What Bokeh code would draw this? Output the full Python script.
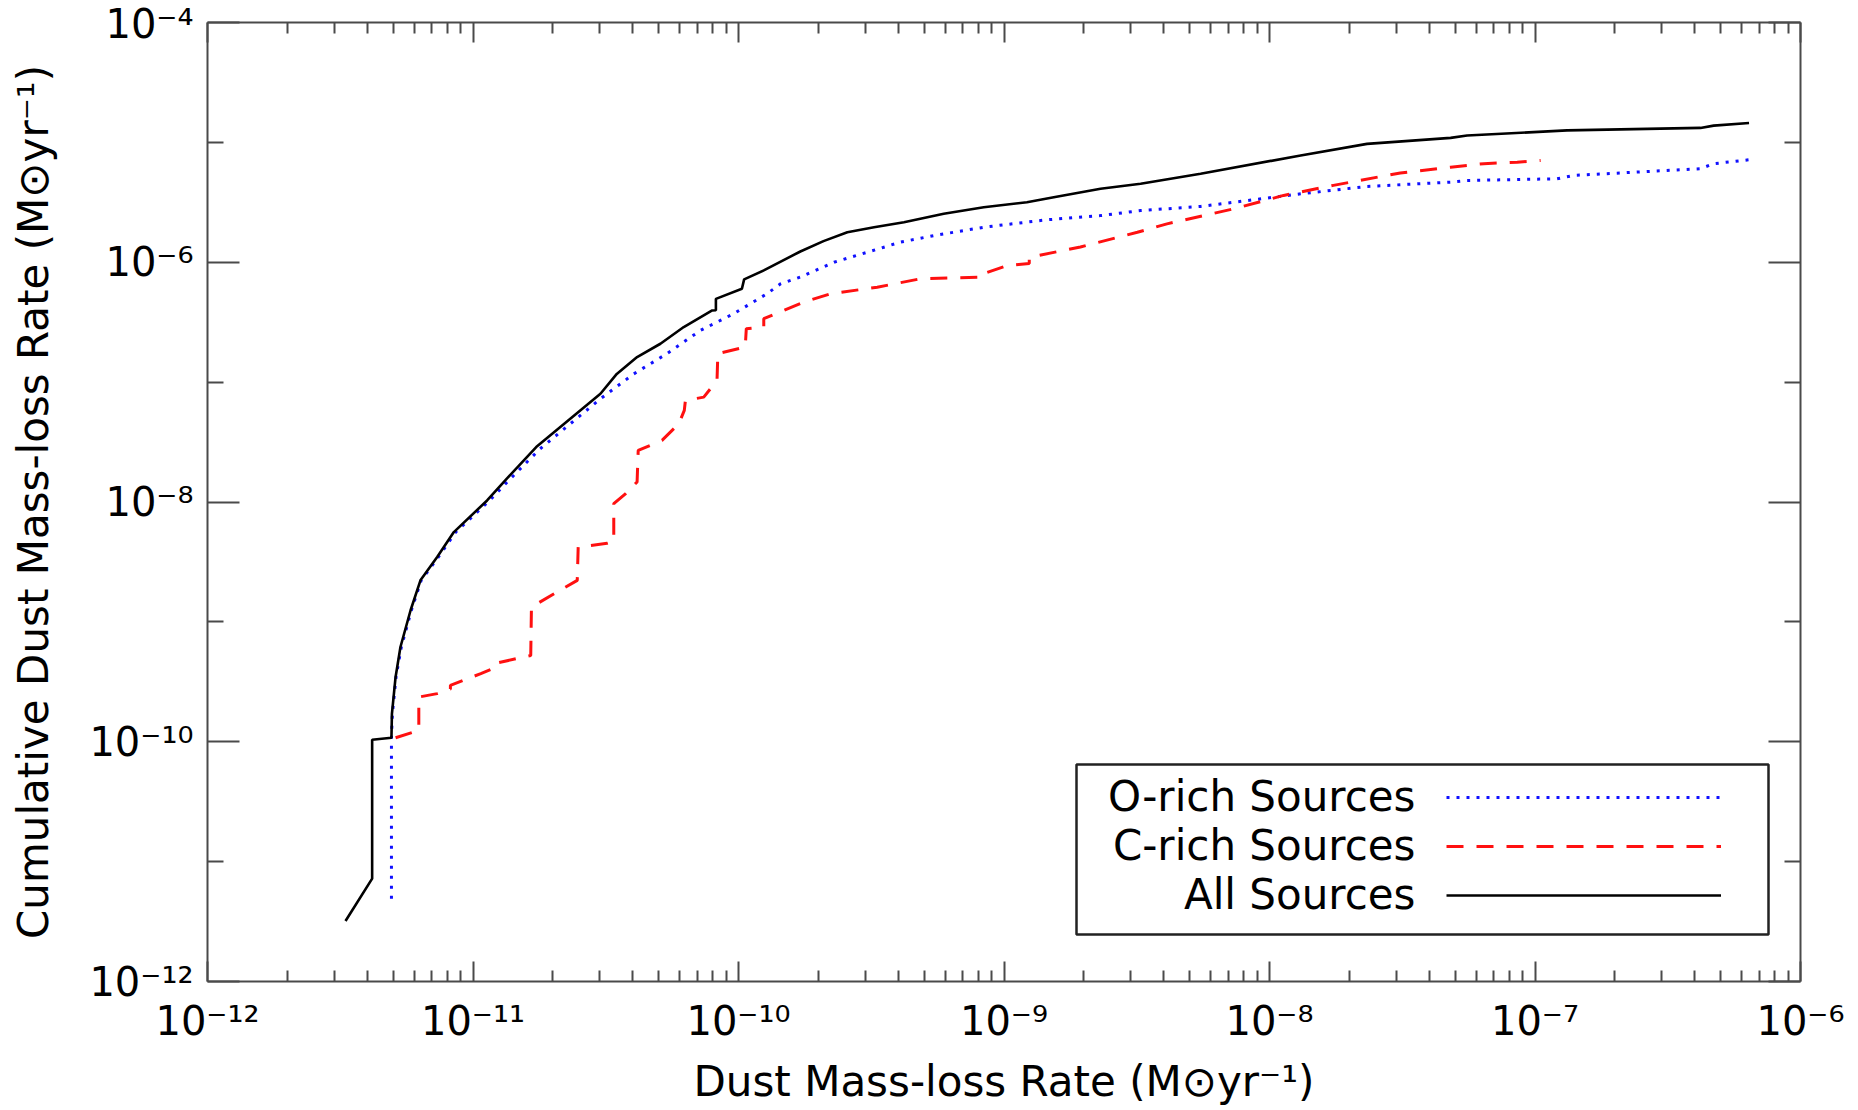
from bokeh.plotting import figure
from bokeh.models import (LogAxis, FixedTicker, CustomJSTickFormatter, Legend, LegendItem,
                          Label, BoxAnnotation, ColumnDataSource)
from bokeh.embed import file_html
from bokeh.resources import INLINE

# ---------------- data ----------------
all_rate = [3.31e-12, 4.17e-12, 4.17e-12, 4.93e-12, 4.95e-12, 5.11e-12, 5.33e-12, 5.82e-12,
            6.34e-12, 7.33e-12, 8.47e-12, 1.13e-11, 1.32e-11, 1.73e-11, 3.02e-11, 3.48e-11,
            4.15e-11, 5.08e-11, 6.22e-11, 7.96e-11, 8.22e-11, 8.22e-11, 1.03e-10, 1.05e-10,
            1.245e-10, 1.71e-10, 2.09e-10, 2.57e-10, 3.24e-10, 4.20e-10, 5.93e-10, 8.39e-10,
            1.22e-9, 1.54e-9, 2.31e-9, 3.27e-9, 5.50e-9, 1.31e-8, 2.33e-8, 4.81e-8, 5.55e-8,
            1.32e-7, 4.20e-7, 4.71e-7, 6.40e-7]
all_cum = [3.20e-12, 7.21e-12, 1.04e-10, 1.08e-10, 1.71e-10, 3.47e-10, 6.17e-10, 1.25e-9,
           2.22e-9, 3.48e-9, 5.61e-9, 1.03e-8, 1.51e-8, 2.87e-8, 8.00e-8, 1.17e-7,
           1.62e-7, 2.09e-7, 2.88e-7, 3.96e-7, 3.98e-7, 4.95e-7, 6.01e-7, 7.20e-7,
           8.55e-7, 1.23e-6, 1.50e-6, 1.78e-6, 1.96e-6, 2.16e-6, 2.54e-6, 2.88e-6,
           3.17e-6, 3.49e-6, 4.10e-6, 4.52e-6, 5.47e-6, 7.78e-6, 9.72e-6, 1.09e-5, 1.14e-5,
           1.26e-5, 1.32e-5, 1.38e-5, 1.45e-5]

orich_rate = [4.93e-12, 4.93e-12, 4.97e-12, 5.13e-12, 5.37e-12, 5.86e-12, 6.38e-12, 7.41e-12,
              8.61e-12, 1.15e-11, 1.35e-11, 1.78e-11, 3.02e-11, 4.03e-11, 5.38e-11, 7.19e-11,
              9.59e-11, 1.28e-10, 1.44e-10, 1.71e-10, 2.29e-10, 3.05e-10, 4.07e-10, 5.45e-10,
              8.39e-10, 1.45e-9, 2.31e-9, 3.27e-9, 5.50e-9, 1.31e-8, 2.33e-8, 4.81e-8, 5.55e-8,
              1.21e-7, 1.40e-7, 4.20e-7, 4.71e-7, 6.40e-7]
orich_cum = [4.90e-12, 1.08e-10, 1.71e-10, 3.47e-10, 6.17e-10, 1.25e-9, 2.22e-9, 3.48e-9,
             5.61e-9, 1.02e-8, 1.48e-8, 2.75e-8, 7.26e-8, 1.17e-7, 1.73e-7, 2.70e-7,
             3.72e-7, 5.46e-7, 6.61e-7, 7.52e-7, 1.00e-6, 1.21e-6, 1.47e-6, 1.67e-6,
             1.96e-6, 2.26e-6, 2.45e-6, 2.70e-6, 2.92e-6, 3.72e-6, 4.29e-6, 4.66e-6, 4.81e-6,
             4.97e-6, 5.30e-6, 6.03e-6, 6.64e-6, 7.16e-6]

crich_rate = [5.11e-12, 6.25e-12, 6.25e-12, 7.33e-12, 8.22e-12, 8.22e-12, 1.07e-11, 1.25e-11,
              1.25e-11, 1.65e-11, 1.66e-11, 2.07e-11, 2.47e-11, 2.49e-11, 3.20e-11, 3.39e-11,
              3.39e-11, 3.75e-11, 4.15e-11, 4.19e-11, 5.15e-11, 5.96e-11, 6.25e-11, 6.31e-11,
              7.40e-11, 8.30e-11, 8.36e-11, 1.06e-10, 1.07e-10, 1.245e-10, 1.245e-10, 1.76e-10,
              2.22e-10, 3.33e-10, 4.84e-10, 8.32e-10, 8.39e-10, 1.03e-9, 1.245e-9, 1.245e-9,
              1.94e-9, 3.18e-9, 4.11e-9, 7.33e-9, 1.13e-8, 1.74e-8, 3.11e-8, 4.81e-8, 6.41e-8,
              8.57e-8, 1.05e-7]
crich_cum = [1.08e-10, 1.245e-10, 2.36e-10, 2.52e-10, 2.75e-10, 2.95e-10, 3.70e-10, 4.27e-10,
             4.57e-10, 5.25e-10, 1.33e-9, 1.77e-9, 2.22e-9, 4.21e-9, 4.52e-9, 4.68e-9,
             9.68e-9, 1.17e-8, 1.47e-8, 2.69e-8, 3.27e-8, 4.50e-8, 5.81e-8, 7.03e-8,
             7.50e-8, 1.03e-7, 1.73e-7, 1.96e-7, 2.79e-7, 2.88e-7, 3.38e-7, 4.65e-7,
             5.46e-7, 6.19e-7, 7.28e-7, 7.50e-7, 8.04e-7, 9.40e-7, 9.77e-7, 1.10e-6,
             1.34e-6, 1.78e-6, 2.09e-6, 2.79e-6, 3.61e-6, 4.38e-6, 5.56e-6, 6.21e-6, 6.64e-6,
             6.84e-6, 7.06e-6]

series_names = ["O-rich Sources", "C-rich Sources", "All Sources"]

x_major_ticks = [1e-12, 1e-11, 1e-10, 1e-9, 1e-8, 1e-7, 1e-6]
x_minor_ticks = [m * 10.0 ** k for k in range(-12, -6) for m in range(2, 10)]
y_major_ticks = [1e-12, 1e-10, 1e-8, 1e-6, 1e-4]
y_minor_ticks = [1e-11, 1e-9, 1e-7, 1e-5]

x_label = "Dust Mass-loss Rate (M\u2299yr\u207b\u00b9)"
y_label = "Cumulative Dust Mass-loss Rate (M\u2299yr\u207b\u00b9)"

# ---------------- styling ----------------
FONT = "DejaVu Sans"
AXC = "#4a4a4a"

p = figure(width=1858, height=1110, x_axis_type="log", y_axis_type="log",
           x_range=(1e-12, 1e-6), y_range=(1e-12, 1e-4),
           output_backend="svg", toolbar_location=None,
           min_border_left=207, min_border_right=58, min_border_top=22, min_border_bottom=129)
p.xgrid.visible = False
p.ygrid.visible = False
p.outline_line_color = None
p.background_fill_color = "white"
p.border_fill_color = "white"

sup_code = """
const e = Math.round(Math.log10(tick));
const m = {"-":"\u207b","0":"\u2070","1":"\u00b9","2":"\u00b2","3":"\u00b3","4":"\u2074",
           "5":"\u2075","6":"\u2076","7":"\u2077","8":"\u2078","9":"\u2079"};
return "10" + String(e).split("").map(c => m[c]).join("");
"""


def style_axis(ax, major, minor, tin, tmin, labelled):
    ax.ticker = FixedTicker(ticks=major, minor_ticks=minor)
    ax.axis_line_color = AXC
    ax.axis_line_width = 2
    ax.major_tick_line_color = AXC
    ax.major_tick_line_width = 2
    ax.minor_tick_line_color = AXC
    ax.minor_tick_line_width = 2
    ax.major_tick_in = tin
    ax.major_tick_out = 0
    ax.minor_tick_in = tmin
    ax.minor_tick_out = 0
    if labelled:
        ax.formatter = CustomJSTickFormatter(code=sup_code)
        ax.major_label_text_font = FONT
        ax.major_label_text_font_size = "40px"
        ax.major_label_text_color = "black"
        ax.axis_label_text_font = FONT
        ax.axis_label_text_font_size = "42px"
        ax.axis_label_text_font_style = "normal"
        ax.axis_label_text_color = "black"
    else:
        ax.formatter = CustomJSTickFormatter(code="return '';")
        ax.major_label_standoff = 0


xb = p.xaxis[0]
yl = p.yaxis[0]
style_axis(xb, x_major_ticks, x_minor_ticks, 20, 11, True)
style_axis(yl, y_major_ticks, y_minor_ticks, 32, 16, True)
xb.axis_label = x_label
yl.axis_label = y_label
xb.major_label_standoff = 16
xb.axis_label_standoff = 10
yl.major_label_standoff = 14
yl.axis_label_standoff = 28

xt = LogAxis()
style_axis(xt, x_major_ticks, x_minor_ticks, 20, 11, False)
p.add_layout(xt, "above")
yr = LogAxis()
style_axis(yr, y_major_ticks, y_minor_ticks, 32, 16, False)
p.add_layout(yr, "right")

# ---------------- curves ----------------
src_o = ColumnDataSource(dict(x=orich_rate, y=orich_cum))
src_c = ColumnDataSource(dict(x=crich_rate, y=crich_cum))
src_a = ColumnDataSource(dict(x=all_rate, y=all_cum))

r_o = p.line("x", "y", source=src_o, line_color="#1010ff", line_width=3, line_dash="3 7")
r_c = p.line("x", "y", source=src_c, line_color="#ff1010", line_width=3, line_dash="17 13")
r_a = p.line("x", "y", source=src_a, line_color="black", line_width=2.6)

# ---------------- legend (text left, sample line right) ----------------
box = BoxAnnotation(left=869, right=1561, bottom=47, top=217,
                    left_units="screen", right_units="screen",
                    top_units="screen", bottom_units="screen",
                    fill_color="white", fill_alpha=1.0,
                    line_color="#222222", line_width=2.5, line_alpha=1.0)
p.add_layout(box)

legend = Legend(items=[LegendItem(label=" ", renderers=[r_o]),
                       LegendItem(label=" ", renderers=[r_c]),
                       LegendItem(label=" ", renderers=[r_a])],
                location=(1239, 66), glyph_width=275, glyph_height=40,
                label_height=40, label_width=0, label_standoff=0,
                padding=0, spacing=9, margin=0,
                border_line_color=None, background_fill_alpha=0.0,
                label_text_font=FONT, label_text_font_size="40px")
p.add_layout(legend, "center")

row_y = [185, 136, 87]
for name, yy in zip(series_names, row_y):
    p.add_layout(Label(x=1208, y=yy, x_units="screen", y_units="screen", text=name,
                       text_align="right", text_baseline="middle",
                       text_font=FONT, text_font_size="42px", text_color="black"))

open("out.html", "w").write(file_html(p, INLINE))
